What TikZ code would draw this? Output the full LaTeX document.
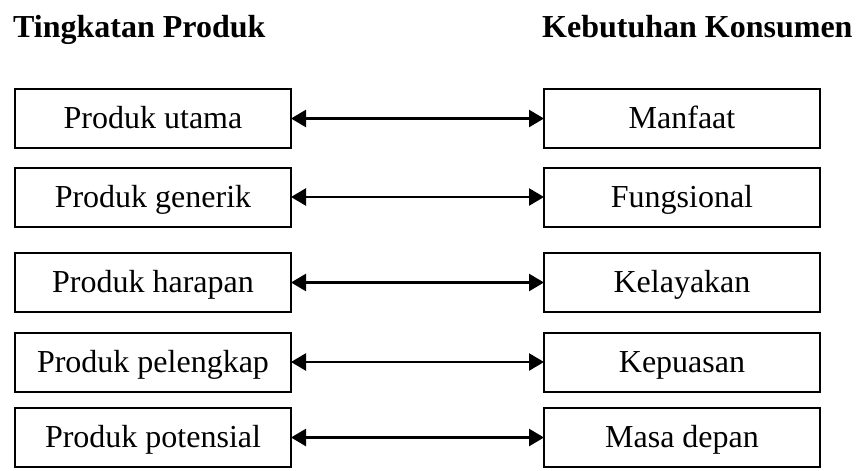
\documentclass[tikz,border=0pt]{standalone}
\usepackage{fontspec}
\setmainfont{Liberation Serif}
\usetikzlibrary{arrows.meta}
\begin{document}
\begin{tikzpicture}[x=1pt,y=-1pt,
  box/.style={draw=black,line width=2pt,minimum width=276pt,minimum height=59pt,inner sep=0pt,text height=22pt,text depth=2pt,font=\fontsize{32}{38}\selectfont},
  title/.style={anchor=base west,inner sep=0pt,font=\fontsize{32}{38}\selectfont\bfseries},
  link/.style={line width=2.5pt,{Triangle[length=15pt,width=17pt]}-{Triangle[length=15pt,width=17pt]},shorten <=-1pt,shorten >=-1pt}]
\useasboundingbox (0,0) rectangle (857,471);
\node[title] (tl) at (13,37) {Tingkatan Produk};
\node[title] (tr) at (542,37) {Kebutuhan Konsumen};
\node[box] (l1) at (153,118.5) {Produk utama};
\node[box] (l2) at (153,197) {Produk generik};
\node[box] (l3) at (153,282.5) {Produk harapan};
\node[box] (l4) at (153,362) {Produk pelengkap};
\node[box] (l5) at (153,437.5) {Produk potensial};
\node[box] (r1) at (682,118.5) {Manfaat};
\node[box] (r2) at (682,197) {Fungsional};
\node[box] (r3) at (682,282.5) {Kelayakan};
\node[box] (r4) at (682,362) {Kepuasan};
\node[box] (r5) at (682,437.5) {Masa depan};
\foreach \i in {1,...,5} \draw[link] (l\i.east) -- (r\i.west);
\end{tikzpicture}
\end{document}
